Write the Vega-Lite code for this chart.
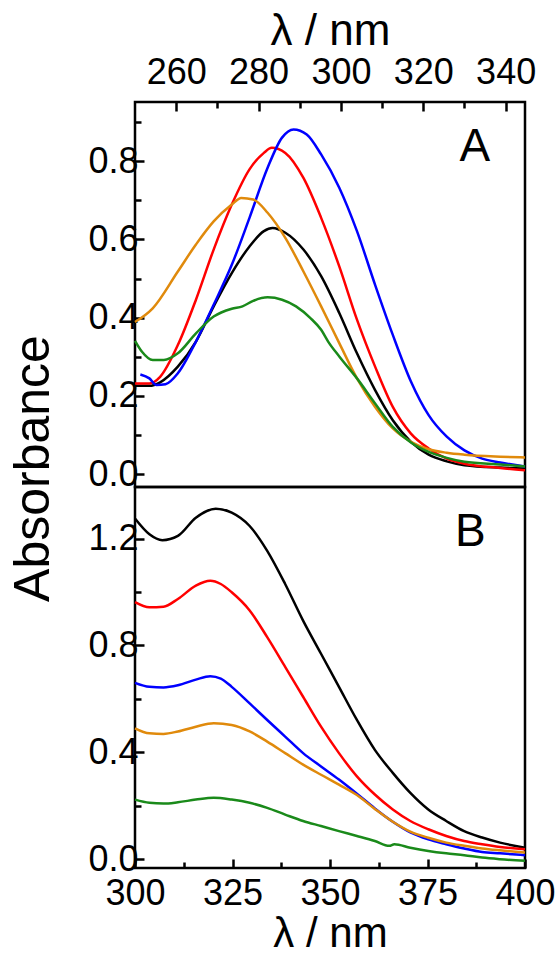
{
  "$schema": "https://vega.github.io/schema/vega-lite/v6.json",
  "background": "white",
  "padding": {"left": 7, "top": 7, "right": 5, "bottom": 0},
  "spacing": 0,
  "bounds": "flush",
  "config": {
    "view": {"stroke": "black", "strokeWidth": 2.5},
    "font": "Liberation Sans",
    "axis": {"grid": false, "domain": false, "labelFont": "Liberation Sans", "labelFontSize": 36, "labelColor": "black", "labelFlush": false, "labelOverlap": false, "titleFont": "Liberation Sans", "titleFontSize": 44, "titleFontWeight": "normal", "titleColor": "black", "tickColor": "black", "tickWidth": 2.5},
    "concat": {"spacing": 0}
  },
  "datasets": {
    "A": [
      {"s":"black","nm":250,"a":0.226},{"s":"black","nm":253.5,"a":0.226},{"s":"black","nm":256.1,"a":0.235},{"s":"black","nm":260.4,"a":0.275},{"s":"black","nm":264.8,"a":0.339},{"s":"black","nm":269.1,"a":0.429},{"s":"black","nm":273.5,"a":0.514},{"s":"black","nm":277.8,"a":0.582},{"s":"black","nm":281.3,"a":0.621},{"s":"black","nm":283.4,"a":0.629},{"s":"black","nm":286.5,"a":0.617},{"s":"black","nm":290.9,"a":0.574},{"s":"black","nm":295.2,"a":0.506},{"s":"black","nm":299.6,"a":0.412},{"s":"black","nm":303.9,"a":0.309},{"s":"black","nm":308.3,"a":0.215},{"s":"black","nm":312.6,"a":0.138},{"s":"black","nm":317,"a":0.083},{"s":"black","nm":321.3,"a":0.05},{"s":"black","nm":325.7,"a":0.033},{"s":"black","nm":330,"a":0.023},{"s":"black","nm":338.7,"a":0.017},{"s":"black","nm":344.7,"a":0.015},
      {"s":"red","nm":250,"a":0.232},{"s":"red","nm":253.5,"a":0.232},{"s":"red","nm":256.1,"a":0.249},{"s":"red","nm":260.4,"a":0.33},{"s":"red","nm":264.8,"a":0.446},{"s":"red","nm":269.1,"a":0.574},{"s":"red","nm":273.5,"a":0.689},{"s":"red","nm":277.8,"a":0.779},{"s":"red","nm":281.3,"a":0.821},{"s":"red","nm":283.2,"a":0.834},{"s":"red","nm":286.5,"a":0.821},{"s":"red","nm":290.9,"a":0.757},{"s":"red","nm":295.2,"a":0.655},{"s":"red","nm":299.6,"a":0.531},{"s":"red","nm":303.9,"a":0.395},{"s":"red","nm":308.3,"a":0.275},{"s":"red","nm":312.6,"a":0.172},{"s":"red","nm":317,"a":0.104},{"s":"red","nm":321.3,"a":0.066},{"s":"red","nm":325.7,"a":0.04},{"s":"red","nm":330,"a":0.027},{"s":"red","nm":338.7,"a":0.016},{"s":"red","nm":344.7,"a":0.01},
      {"s":"blue","nm":251.3,"a":0.255},{"s":"blue","nm":253.5,"a":0.245},{"s":"blue","nm":255.2,"a":0.228},{"s":"blue","nm":257.4,"a":0.23},{"s":"blue","nm":260.4,"a":0.258},{"s":"blue","nm":264.8,"a":0.339},{"s":"blue","nm":269.1,"a":0.433},{"s":"blue","nm":273.5,"a":0.535},{"s":"blue","nm":277.8,"a":0.655},{"s":"blue","nm":282.2,"a":0.783},{"s":"blue","nm":285.7,"a":0.86},{"s":"blue","nm":288.5,"a":0.881},{"s":"blue","nm":291.7,"a":0.868},{"s":"blue","nm":295.2,"a":0.817},{"s":"blue","nm":299.6,"a":0.732},{"s":"blue","nm":303.9,"a":0.621},{"s":"blue","nm":308.3,"a":0.484},{"s":"blue","nm":312.6,"a":0.356},{"s":"blue","nm":317,"a":0.237},{"s":"blue","nm":321.3,"a":0.151},{"s":"blue","nm":325.7,"a":0.096},{"s":"blue","nm":330,"a":0.061},{"s":"blue","nm":334.3,"a":0.04},{"s":"blue","nm":338.7,"a":0.03},{"s":"blue","nm":344.7,"a":0.02},
      {"s":"orange","nm":250,"a":0.389},{"s":"orange","nm":254.3,"a":0.424},{"s":"orange","nm":260.4,"a":0.518},{"s":"orange","nm":264.8,"a":0.587},{"s":"orange","nm":269.1,"a":0.646},{"s":"orange","nm":273.5,"a":0.689},{"s":"orange","nm":275.8,"a":0.706},{"s":"orange","nm":278.7,"a":0.702},{"s":"orange","nm":282.2,"a":0.668},{"s":"orange","nm":286.5,"a":0.604},{"s":"orange","nm":290.9,"a":0.518},{"s":"orange","nm":295.2,"a":0.429},{"s":"orange","nm":299.6,"a":0.335},{"s":"orange","nm":303.9,"a":0.245},{"s":"orange","nm":308.3,"a":0.172},{"s":"orange","nm":312.6,"a":0.117},{"s":"orange","nm":317,"a":0.083},{"s":"orange","nm":321.3,"a":0.064},{"s":"orange","nm":325.7,"a":0.055},{"s":"orange","nm":330,"a":0.05},{"s":"orange","nm":338.7,"a":0.045},{"s":"orange","nm":344.7,"a":0.043},
      {"s":"green","nm":250,"a":0.341},{"s":"green","nm":251.7,"a":0.313},{"s":"green","nm":254.3,"a":0.292},{"s":"green","nm":257,"a":0.292},{"s":"green","nm":260.4,"a":0.309},{"s":"green","nm":264.8,"a":0.36},{"s":"green","nm":269.1,"a":0.403},{"s":"green","nm":273.5,"a":0.423},{"s":"green","nm":276.1,"a":0.429},{"s":"green","nm":278.7,"a":0.443},{"s":"green","nm":282.2,"a":0.452},{"s":"green","nm":285.7,"a":0.446},{"s":"green","nm":289.1,"a":0.429},{"s":"green","nm":292.6,"a":0.399},{"s":"green","nm":295.2,"a":0.369},{"s":"green","nm":296.9,"a":0.339},{"s":"green","nm":299.6,"a":0.301},{"s":"green","nm":303.9,"a":0.245},{"s":"green","nm":308.3,"a":0.181},{"s":"green","nm":312.6,"a":0.121},{"s":"green","nm":317,"a":0.081},{"s":"green","nm":321.3,"a":0.057},{"s":"green","nm":325.7,"a":0.042},{"s":"green","nm":330,"a":0.032},{"s":"green","nm":338.7,"a":0.025},{"s":"green","nm":344.7,"a":0.02}
    ],
    "B": [
      {"s":"black","nm":300,"a":1.275},{"s":"black","nm":303.7,"a":1.216},{"s":"black","nm":307,"a":1.194},{"s":"black","nm":311,"a":1.21},{"s":"black","nm":315.6,"a":1.278},{"s":"black","nm":320.7,"a":1.312},{"s":"black","nm":324.8,"a":1.297},{"s":"black","nm":329.4,"a":1.247},{"s":"black","nm":333.9,"a":1.154},{"s":"black","nm":338.5,"a":1.03},{"s":"black","nm":343.1,"a":0.893},{"s":"black","nm":347.7,"a":0.769},{"s":"black","nm":352.3,"a":0.645},{"s":"black","nm":356.9,"a":0.521},{"s":"black","nm":361.5,"a":0.409},{"s":"black","nm":366.1,"a":0.323},{"s":"black","nm":370.6,"a":0.248},{"s":"black","nm":375.2,"a":0.186},{"s":"black","nm":379.8,"a":0.143},{"s":"black","nm":384.4,"a":0.105},{"s":"black","nm":389,"a":0.081},{"s":"black","nm":393.6,"a":0.062},{"s":"black","nm":400,"a":0.043},
      {"s":"red","nm":300,"a":0.962},{"s":"red","nm":303.7,"a":0.943},{"s":"red","nm":307.3,"a":0.945},{"s":"red","nm":311,"a":0.974},{"s":"red","nm":315.6,"a":1.024},{"s":"red","nm":319.3,"a":1.042},{"s":"red","nm":322,"a":1.03},{"s":"red","nm":324.8,"a":0.999},{"s":"red","nm":329.4,"a":0.931},{"s":"red","nm":333.9,"a":0.831},{"s":"red","nm":338.5,"a":0.72},{"s":"red","nm":343.1,"a":0.608},{"s":"red","nm":347.7,"a":0.496},{"s":"red","nm":352.3,"a":0.397},{"s":"red","nm":356.9,"a":0.31},{"s":"red","nm":361.5,"a":0.242},{"s":"red","nm":366.1,"a":0.186},{"s":"red","nm":370.6,"a":0.143},{"s":"red","nm":375.2,"a":0.112},{"s":"red","nm":379.8,"a":0.087},{"s":"red","nm":384.4,"a":0.068},{"s":"red","nm":389,"a":0.056},{"s":"red","nm":393.6,"a":0.046},{"s":"red","nm":400,"a":0.037},
      {"s":"blue","nm":300,"a":0.66},{"s":"blue","nm":303.7,"a":0.645},{"s":"blue","nm":307.3,"a":0.643},{"s":"blue","nm":311,"a":0.651},{"s":"blue","nm":315.6,"a":0.672},{"s":"blue","nm":319.3,"a":0.685},{"s":"blue","nm":322,"a":0.676},{"s":"blue","nm":324.8,"a":0.645},{"s":"blue","nm":329.4,"a":0.583},{"s":"blue","nm":333.9,"a":0.521},{"s":"blue","nm":338.5,"a":0.459},{"s":"blue","nm":343.1,"a":0.397},{"s":"blue","nm":347.7,"a":0.347},{"s":"blue","nm":352.3,"a":0.298},{"s":"blue","nm":356.9,"a":0.245},{"s":"blue","nm":361.5,"a":0.19},{"s":"blue","nm":366.1,"a":0.14},{"s":"blue","nm":370.6,"a":0.1},{"s":"blue","nm":375.2,"a":0.074},{"s":"blue","nm":379.8,"a":0.056},{"s":"blue","nm":384.4,"a":0.04},{"s":"blue","nm":389,"a":0.027},{"s":"blue","nm":393.6,"a":0.022},{"s":"blue","nm":400,"a":0.015},
      {"s":"orange","nm":300,"a":0.49},{"s":"orange","nm":303.7,"a":0.471},{"s":"orange","nm":307.3,"a":0.469},{"s":"orange","nm":311,"a":0.478},{"s":"orange","nm":315.6,"a":0.496},{"s":"orange","nm":320.2,"a":0.509},{"s":"orange","nm":324.8,"a":0.502},{"s":"orange","nm":329.4,"a":0.478},{"s":"orange","nm":333.9,"a":0.44},{"s":"orange","nm":338.5,"a":0.397},{"s":"orange","nm":343.1,"a":0.354},{"s":"orange","nm":347.7,"a":0.316},{"s":"orange","nm":352.3,"a":0.279},{"s":"orange","nm":356.9,"a":0.24},{"s":"orange","nm":361.5,"a":0.188},{"s":"orange","nm":366.1,"a":0.14},{"s":"orange","nm":370.6,"a":0.103},{"s":"orange","nm":375.2,"a":0.08},{"s":"orange","nm":379.8,"a":0.062},{"s":"orange","nm":384.4,"a":0.05},{"s":"orange","nm":389,"a":0.04},{"s":"orange","nm":393.6,"a":0.033},{"s":"orange","nm":400,"a":0.025},
      {"s":"green","nm":300,"a":0.223},{"s":"green","nm":303.7,"a":0.211},{"s":"green","nm":307.3,"a":0.208},{"s":"green","nm":311,"a":0.213},{"s":"green","nm":315.6,"a":0.223},{"s":"green","nm":320.2,"a":0.23},{"s":"green","nm":324.8,"a":0.223},{"s":"green","nm":329.4,"a":0.211},{"s":"green","nm":333.9,"a":0.192},{"s":"green","nm":338.5,"a":0.167},{"s":"green","nm":343.1,"a":0.143},{"s":"green","nm":347.7,"a":0.124},{"s":"green","nm":352.3,"a":0.105},{"s":"green","nm":356.9,"a":0.087},{"s":"green","nm":361.5,"a":0.068},{"s":"green","nm":365.2,"a":0.05},{"s":"green","nm":366.5,"a":0.056},{"s":"green","nm":370.6,"a":0.043},{"s":"green","nm":375.2,"a":0.031},{"s":"green","nm":379.8,"a":0.022},{"s":"green","nm":384.4,"a":0.015},{"s":"green","nm":389,"a":0.006},{"s":"green","nm":393.6,"a":0.0},{"s":"green","nm":400,"a":-0.006}
    ]
  },
  "vconcat": [
    {
      "width": 390,
      "height": 385,
      "layer": [
        {
          "data": {"name": "A"},
          "mark": {"type": "line", "strokeWidth": 2.5, "interpolate": "monotone"},
          "encoding": {
            "x": {"field": "nm", "type": "quantitative", "scale": {"domain": [250, 344.7], "nice": false, "zero": false},
                  "axis": {"orient": "top", "values": [260, 280, 300, 320, 340], "tickSize": -9, "labelPadding": 20, "title": "λ / nm", "titlePadding": 1}},
            "y": {"field": "a", "type": "quantitative", "scale": {"domain": [-0.0325, 0.951], "nice": false, "zero": false},
                  "axis": {"values": [0, 0.2, 0.4, 0.6, 0.8], "format": ".1f", "tickSize": -9, "labelPadding": 6, "title": "Absorbance", "titleFontSize": 50, "titleY": 366, "titlePadding": 29}},
            "color": {"field": "s", "type": "nominal", "scale": {"domain": ["black", "red", "blue", "orange", "green"], "range": ["#000000", "#ff0000", "#0000ff", "#e08a0c", "#1a8a1a"]}, "legend": null}
          }
        },
        {
          "data": {"name": "A"},
          "mark": {"type": "line", "strokeWidth": 2.5, "opacity": 0},
          "encoding": {
            "x": {"field": "nm", "type": "quantitative", "axis": {"orient": "top", "values": [270, 290, 310, 330], "labels": false, "tickSize": -6, "title": null}},
            "y": {"field": "a", "type": "quantitative", "axis": {"orient": "left", "values": [0.1, 0.3, 0.5, 0.7, 0.9], "labels": false, "tickSize": -6, "title": null}},
            "detail": {"field": "s"}
          }
        },
        {
          "data": {"values": [{"label": "A"}]},
          "mark": {"type": "text", "fontSize": 46, "font": "Liberation Sans", "align": "center", "baseline": "middle"},
          "encoding": {
            "x": {"datum": 332.5, "type": "quantitative", "axis": null},
            "y": {"datum": 0.836, "type": "quantitative", "axis": null},
            "text": {"field": "label"}
          }
        }
      ],
      "resolve": {"axis": {"x": "independent", "y": "independent"}}
    },
    {
      "width": 390,
      "height": 381,
      "layer": [
        {
          "data": {"name": "B"},
          "mark": {"type": "line", "strokeWidth": 2.5, "interpolate": "monotone"},
          "encoding": {
            "x": {"field": "nm", "type": "quantitative", "scale": {"domain": [300, 400], "nice": false, "zero": false},
                  "axis": {"orient": "bottom", "values": [300, 325, 350, 375, 400], "tickSize": -9, "labelPadding": 17, "title": "λ / nm", "titleFontSize": 42, "titlePadding": 2}},
            "y": {"field": "a", "type": "quantitative", "scale": {"domain": [-0.033, 1.393], "nice": false, "zero": false},
                  "axis": {"values": [0, 0.4, 0.8, 1.2], "format": ".1f", "tickSize": -9, "labelPadding": 6, "title": null}},
            "color": {"field": "s", "type": "nominal", "scale": {"domain": ["black", "red", "blue", "orange", "green"], "range": ["#000000", "#ff0000", "#0000ff", "#e08a0c", "#1a8a1a"]}, "legend": null}
          }
        },
        {
          "data": {"name": "B"},
          "mark": {"type": "line", "strokeWidth": 2.5, "opacity": 0},
          "encoding": {
            "x": {"field": "nm", "type": "quantitative", "axis": {"orient": "bottom", "values": [312.5, 337.5, 362.5, 387.5], "labels": false, "tickSize": -6, "title": null}},
            "y": {"field": "a", "type": "quantitative", "axis": {"orient": "left", "values": [0.2, 0.6, 1.0], "labels": false, "tickSize": -6, "title": null}},
            "detail": {"field": "s"}
          }
        },
        {
          "data": {"values": [{"label": "B"}]},
          "mark": {"type": "text", "fontSize": 46, "font": "Liberation Sans", "align": "center", "baseline": "middle"},
          "encoding": {
            "x": {"datum": 386, "type": "quantitative", "axis": null},
            "y": {"datum": 1.225, "type": "quantitative", "axis": null},
            "text": {"field": "label"}
          }
        }
      ],
      "resolve": {"axis": {"x": "independent", "y": "independent"}}
    }
  ]
}
